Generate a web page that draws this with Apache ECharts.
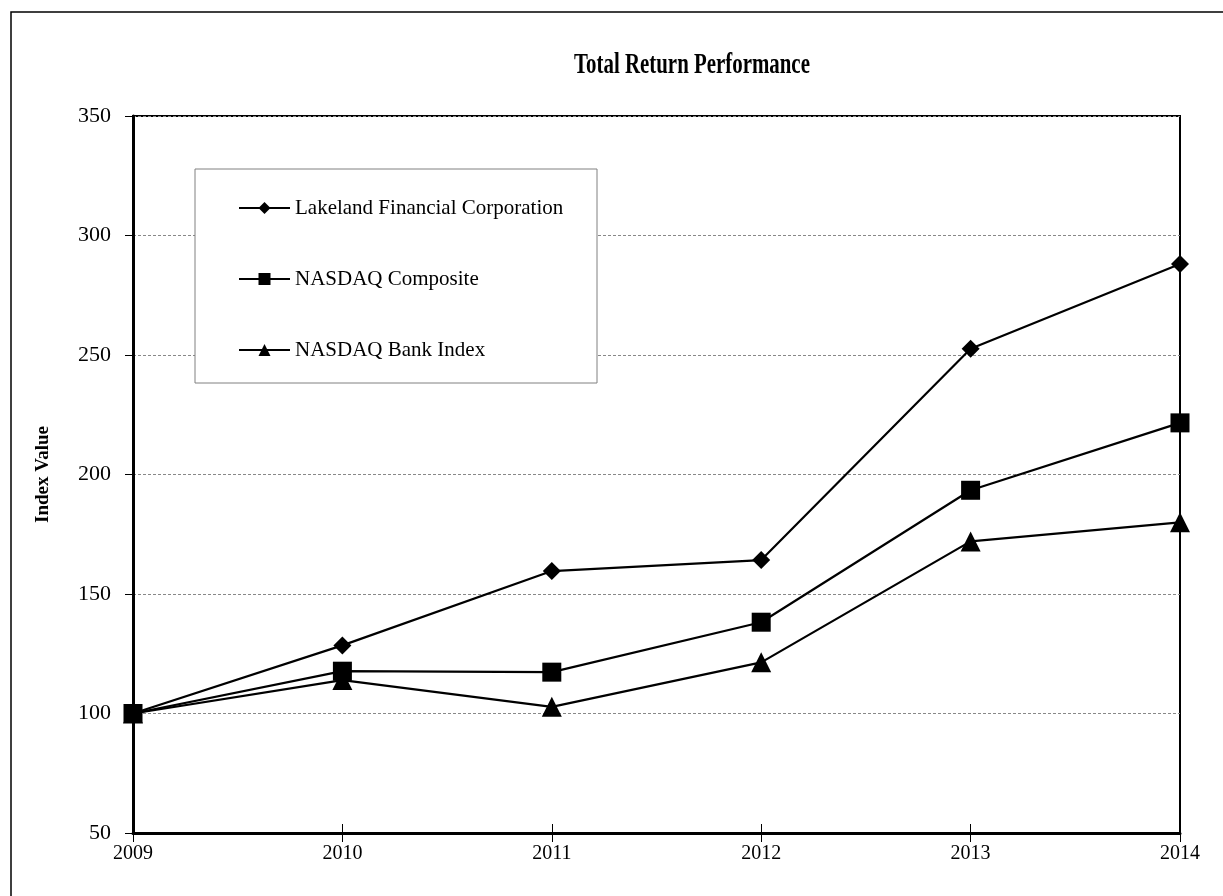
<!DOCTYPE html>
<html>
<head>
<meta charset="utf-8">
<script src="https://cdn.jsdelivr.net/npm/echarts@6/dist/echarts.min.js"></script>
<style>
  html, body { margin: 0; padding: 0; background: #fff; }
  #chart { width: 1223px; height: 896px; }
</style>
</head>
<body>
<div id="chart"></div>
<script>
var years = ['2009', '2010', '2011', '2012', '2013', '2014'];
var lakeland = [100, 128.5, 159.6, 164.2, 252.6, 288.1];
var composite = [100, 117.7, 117.3, 138.2, 193.4, 221.6];
var bank = [100, 114.0, 102.8, 121.4, 172.0, 180.0];
var seriesNames = ['Lakeland Financial Corporation', 'NASDAQ Composite', 'NASDAQ Bank Index'];
var titleText = 'Total Return Performance';

var serif = 'Liberation Serif';
var chart = echarts.init(document.getElementById('chart'));

function lineSeries(name, data, symbol, size, z) {
    return {
        name: name,
        type: 'line',
        data: data,
        symbol: symbol,
        symbolSize: size,
        z: z,
        lineStyle: { color: '#000', width: 2.2 },
        itemStyle: { color: '#000' },
        animation: false
    };
}

var option = {
    backgroundColor: '#fff',
    graphic: [
        // outer frame, runs off the right and bottom edges
        { type: 'rect', shape: { x: 11, y: 12, width: 1300, height: 1000 },
          style: { fill: 'none', stroke: '#000', lineWidth: 1.5 }, silent: true },
        // title, narrow like the original
        { type: 'text', x: 692, y: 66, scaleX: 0.72, silent: true,
          style: { text: titleText, fill: '#000', align: 'center', verticalAlign: 'middle',
                   font: 'bold 29px "Liberation Serif"' } },
        // legend box
        { type: 'rect', z: 1, shape: { x: 195, y: 169, width: 402, height: 214 },
          style: { fill: '#fff', stroke: '#808080', lineWidth: 1 }, silent: true }
    ],
    legend: {
        data: seriesNames,
        orient: 'vertical',
        left: 238,
        top: 196,
        padding: 0,
        itemWidth: 51,
        itemHeight: 15,
        itemGap: 47,
        textStyle: { fontFamily: serif, fontSize: 21, color: '#000', lineHeight: 24 },
        selectedMode: false
    },
    grid: {
        left: 133, right: 43, top: 116, bottom: 63,
        show: true, borderColor: '#000', borderWidth: 2
    },
    xAxis: [{
        type: 'category',
        data: years,
        boundaryGap: false,
        axisLine: { lineStyle: { color: '#000', width: 3 } },
        axisTick: { show: true, length: 9, lineStyle: { color: '#000' } },
        axisLabel: { fontFamily: serif, fontSize: 20, color: '#000', margin: 11 }
    }, {
        type: 'category',
        data: years,
        boundaryGap: false,
        position: 'bottom',
        axisLine: { show: false },
        axisTick: { show: true, inside: true, length: 9, lineStyle: { color: '#000' } },
        axisLabel: { show: false }
    }],
    yAxis: {
        type: 'value',
        min: 50,
        max: 350,
        interval: 50,
        name: 'Index Value',
        nameLocation: 'middle',
        nameGap: 80,
        nameTextStyle: { fontFamily: serif, fontWeight: 'bold', fontSize: 19, color: '#000' },
        axisLine: { show: true, lineStyle: { color: '#000', width: 3 } },
        axisTick: { show: true, length: 8, lineStyle: { color: '#000' } },
        axisLabel: { fontFamily: serif, fontSize: 22, color: '#000', margin: 22 },
        splitLine: { show: true, lineStyle: { color: '#888', width: 1, type: [3, 2] } }
    },
    series: [
        lineSeries(seriesNames[0], lakeland, 'diamond', 18, 2),
        lineSeries(seriesNames[2], bank, 'triangle', 20, 2),
        lineSeries(seriesNames[1], composite, 'rect', 19, 3)
    ]
};

chart.setOption(option);
window.addEventListener('resize', function () {
    chart.resize();
});
</script>
</body>
</html>
